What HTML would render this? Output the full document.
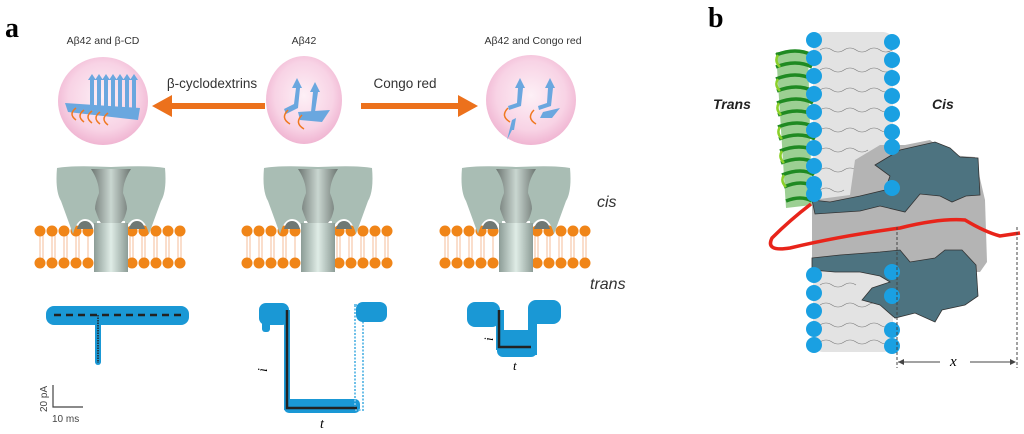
<!DOCTYPE html>
<html><head><meta charset="utf-8"><style>
html,body{margin:0;padding:0;background:#fff;}
svg{display:block;}
text{font-family:"Liberation Sans",sans-serif;}
</style></head><body>
<svg width="1024" height="434" viewBox="0 0 1024 434" xmlns="http://www.w3.org/2000/svg">
<defs>
<radialGradient id="pk" cx="50%" cy="45%" r="55%">
<stop offset="0" stop-color="#fdf0f6"/><stop offset="0.7" stop-color="#f8d3e5"/><stop offset="1" stop-color="#f0b5d2"/>
</radialGradient>
<linearGradient id="st" x1="0" x2="1">
<stop offset="0" stop-color="#8c9c96"/><stop offset="0.5" stop-color="#dfece6"/><stop offset="1" stop-color="#8c9c96"/>
</linearGradient>
<linearGradient id="vs" x1="0" x2="1">
<stop offset="0" stop-color="#6d7672"/><stop offset="0.5" stop-color="#c9d6d0"/><stop offset="1" stop-color="#6d7672"/>
</linearGradient>
<g id="pore">
<g stroke="#f0a070" stroke-width="0.7">
<path d="M-15,-2 v32 M-3,-2 v32 M9,-2 v32 M21,-2 v32 M33,-2 v32 M75,-2 v32 M87,-2 v32 M99,-2 v32 M111,-2 v32 M123,-2 v32 M-12,-2 v32 M0,-2 v32 M12,-2 v32 M24,-2 v32 M78,-2 v32 M90,-2 v32 M102,-2 v32 M114,-2 v32 M126,-2 v32"/>
</g>
<g fill="#f08518">
<circle cx="-15" cy="0" r="5.5"/><circle cx="-3" cy="0" r="5.5"/><circle cx="9" cy="0" r="5.5"/><circle cx="21" cy="0" r="5.5"/><circle cx="33" cy="0" r="5.5"/>
<circle cx="77" cy="0" r="5.5"/><circle cx="89" cy="0" r="5.5"/><circle cx="101" cy="0" r="5.5"/><circle cx="113" cy="0" r="5.5"/><circle cx="125" cy="0" r="5.5"/>
<circle cx="-15" cy="32" r="5.5"/><circle cx="-3" cy="32" r="5.5"/><circle cx="9" cy="32" r="5.5"/><circle cx="21" cy="32" r="5.5"/><circle cx="33" cy="32" r="5.5"/>
<circle cx="77" cy="32" r="5.5"/><circle cx="89" cy="32" r="5.5"/><circle cx="101" cy="32" r="5.5"/><circle cx="113" cy="32" r="5.5"/><circle cx="125" cy="32" r="5.5"/>
</g>
<path d="M2,-63 Q0,-40 6,-30 L18,3 Q22,-12 30,-12 Q38,-12 42,0 L42,-10 L70,-10 L70,0 Q74,-12 82,-12 Q90,-12 94,3 L106,-30 Q112,-40 110,-63 Q95,-66 56,-64 Q17,-66 2,-63Z" fill="#a9bdb4"/>
<path d="M22,-2 Q24,-10 30,-10 Q36,-10 38,-2Z M74,-2 Q76,-10 82,-10 Q88,-10 90,-2Z" fill="#6f7874"/>
<path d="M36,-62 Q44,-50 44,-38 Q40,-28 40,-22 Q44,-10 46,-8 L66,-8 Q70,-12 72,-22 Q72,-28 68,-38 Q68,-50 76,-62Z" fill="url(#vs)"/>
<rect x="39" y="-8" width="34" height="49" fill="url(#st)"/>
</g>
</defs>

<text x="5" y="37" font-weight="bold" font-size="28" style="font-family:'Liberation Serif',serif">a</text>
<text x="103" y="44" font-size="10.5" text-anchor="middle" fill="#333">Aβ42 and β-CD</text>
<text x="304" y="44" font-size="10.5" text-anchor="middle" fill="#333">Aβ42</text>
<text x="533" y="44" font-size="10.5" text-anchor="middle" fill="#333">Aβ42 and Congo red</text>

<ellipse cx="103" cy="101" rx="45" ry="44" fill="url(#pk)"/>
<ellipse cx="304" cy="100" rx="38" ry="44" fill="url(#pk)"/>
<ellipse cx="531" cy="100" rx="45" ry="45" fill="url(#pk)"/>

<g fill="#6aa7df">
<path d="M65,103 L140,108 L138,120 L68,112Z"/>
<path d="M88,80 l4,-6 4,6 -2,0 0,30 -4,0 0,-30Z"/><path d="M95,80 l4,-6 4,6 -2,0 0,30 -4,0 0,-30Z"/><path d="M102,80 l4,-6 4,6 -2,0 0,30 -4,0 0,-30Z"/><path d="M109,80 l4,-6 4,6 -2,0 0,30 -4,0 0,-30Z"/><path d="M116,80 l4,-6 4,6 -2,0 0,30 -4,0 0,-30Z"/><path d="M123,80 l4,-6 4,6 -2,0 0,30 -4,0 0,-30Z"/><path d="M130,80 l4,-6 4,6 -2,0 0,30 -4,0 0,-30Z"/>
</g>
<path d="M76,108 q-8,6 0,12 M84,110 q-8,6 0,12 M92,111 q-8,6 0,12 M100,112 q-8,6 0,12 M108,113 q-8,6 0,12" stroke="#f07820" stroke-width="1.5" fill="none"/>
<g fill="#6aa7df">
<path d="M292,88 l5,-10 5,10 -2,0 -2,20 -12,6 -2,-5 10,-5 2,-16Z"/>
<path d="M310,92 l5,-10 5,10 -2,0 -3,20 -4,0 2,-20Z"/>
<path d="M298,112 L330,110 L322,122 L300,120Z"/>
</g>
<path d="M288,110 q-8,8 2,14 M302,115 q-8,8 2,14" stroke="#f07820" stroke-width="1.5" fill="none"/>
<g fill="#6aa7df">
<path d="M515,88 l5,-10 5,10 -2,0 -2,18 -12,4 -1,-4 9,-3 1,-15Z"/>
<path d="M545,88 l5,-10 5,10 -2,0 -2,18 -12,4 -1,-4 9,-3 1,-15Z"/>
<path d="M512,130 l-5,10 5,-20 4,-2 -2,12Z"/>
<path d="M543,112 L560,108 L552,118 L540,118Z"/>
</g>
<path d="M508,108 q-8,8 2,14 M534,110 q-8,8 2,14" stroke="#f07820" stroke-width="1.5" fill="none"/>

<path d="M265,103 L172,103 L172,95 L152,106 L172,117 L172,109 L265,109Z" fill="#ec711c"/>
<path d="M361,103 L458,103 L458,95 L478,106 L458,117 L458,109 L361,109Z" fill="#ec711c"/>
<text x="212" y="88" font-size="13.5" text-anchor="middle" fill="#333">β-cyclodextrins</text>
<text x="405" y="88" font-size="13.5" text-anchor="middle" fill="#333">Congo red</text>

<use href="#pore" x="55" y="231"/>
<use href="#pore" x="262" y="231"/>
<use href="#pore" x="460" y="231"/>
<text x="597" y="207" font-size="16" font-style="italic" fill="#333">cis</text>
<text x="590" y="289" font-size="16" font-style="italic" fill="#333">trans</text>

<rect x="46" y="306" width="143" height="19" rx="8" fill="#1a98d5"/>
<rect x="95" y="315" width="6" height="50" rx="3" fill="#1a98d5"/>
<line x1="54" y1="315" x2="186" y2="315" stroke="#222" stroke-width="2.5" stroke-dasharray="7,5"/>
<line x1="98" y1="315" x2="98" y2="363" stroke="#222" stroke-width="1.5" stroke-dasharray="1.5,1"/>
<rect x="259" y="303" width="30" height="22" rx="7" fill="#1a98d5"/>
<rect x="262" y="320" width="8" height="12" rx="3" fill="#1a98d5"/>
<rect x="284" y="310" width="6" height="100" fill="#1a98d5"/>
<rect x="284" y="399" width="76" height="14" rx="5" fill="#1a98d5"/>
<rect x="355" y="305" width="8" height="105" fill="none" stroke="#6fc0e8" stroke-width="2" stroke-dasharray="2,1.5"/>
<rect x="356" y="302" width="31" height="20" rx="7" fill="#1a98d5"/>
<path d="M287,310 V408 H357" stroke="#222" stroke-width="2.5" fill="none"/>
<text x="259" y="372" font-size="14" font-style="italic" transform="rotate(-90 263 368)" style="font-family:'Liberation Serif',serif">i</text>
<text x="320" y="428" font-size="14" font-style="italic" style="font-family:'Liberation Serif',serif">t</text>
<rect x="467" y="302" width="33" height="25" rx="8" fill="#1a98d5"/>
<rect x="497" y="330" width="40" height="27" rx="6" fill="#1a98d5"/>
<rect x="496" y="310" width="8" height="40" fill="#1a98d5"/>
<rect x="528" y="300" width="33" height="24" rx="8" fill="#1a98d5"/>
<rect x="528" y="315" width="9" height="40" fill="#1a98d5"/>
<path d="M499,310 V347 H531" stroke="#222" stroke-width="2.5" fill="none"/>
<text x="485" y="341" font-size="13" font-style="italic" transform="rotate(-90 489 337)" style="font-family:'Liberation Serif',serif">i</text>
<text x="513" y="370" font-size="13" font-style="italic" style="font-family:'Liberation Serif',serif">t</text>
<path d="M53,385 V407 H83" stroke="#444" stroke-width="1.2" fill="none"/>
<text x="47" y="412" font-size="10" fill="#444" transform="rotate(-90 47 412)">20 pA</text>
<text x="52" y="422" font-size="10" fill="#444">10 ms</text>

<text x="708" y="27" font-weight="bold" font-size="28" style="font-family:'Liberation Serif',serif">b</text>
<rect x="813" y="32" width="80" height="320" rx="10" fill="#e3e3e3"/>
<g stroke="#777" stroke-width="0.6" fill="none">
<path d="M820,50 q6,-4 12,0 t12,0 t12,0 t12,0 t12,0 t12,0"/>
<path d="M820,70 q6,-4 12,0 t12,0 t12,0 t12,0 t12,0 t12,0"/>
<path d="M820,90 q6,-4 12,0 t12,0 t12,0 t12,0 t12,0 t12,0"/>
<path d="M820,110 q6,-4 12,0 t12,0 t12,0 t12,0 t12,0 t12,0"/>
<path d="M820,130 q6,-4 12,0 t12,0 t12,0 t12,0 t12,0 t12,0"/>
<path d="M820,150 q6,-4 12,0 t12,0 t12,0 t12,0"/>
<path d="M820,170 q6,-4 12,0 t12,0 t12,0"/>
<path d="M820,190 q6,-4 12,0 t12,0"/>
<path d="M820,285 q6,-4 12,0 t12,0 t12,0"/>
<path d="M820,305 q6,-4 12,0 t12,0 t12,0 t12,0 t12,0"/>
<path d="M820,325 q6,-4 12,0 t12,0 t12,0 t12,0 t12,0 t12,0"/>
<path d="M820,342 q6,-4 12,0 t12,0 t12,0 t12,0 t12,0 t12,0"/>
</g>
<path d="M776,52 L808,52 L812,205 L786,208Z" fill="#4aa83a" opacity="0.55"/>
<g stroke="#1f8a22" stroke-width="3.5" fill="none">
<path d="M776,55 q20,-8 36,0 M776,67 q20,-8 36,0 M776,79 q20,-8 36,0 M777,91 q20,-8 36,0 M777,103 q20,-8 36,0 M778,115 q20,-8 36,0 M778,127 q20,-8 36,0 M779,139 q20,-8 36,0 M780,151 q20,-8 36,0 M781,163 q20,-8 34,0 M782,175 q20,-8 32,0 M784,187 q18,-8 30,0 M786,201 q15,-6 26,0"/>
<path d="M778,55 q-4,6 2,12 M778,79 q-4,6 2,12 M779,103 q-4,6 2,12 M780,127 q-4,6 2,12 M782,151 q-4,6 2,12 M784,175 q-4,6 2,12" stroke="#8bd02a" stroke-width="2.5"/>
</g>
<path d="M855,160 L880,145 L905,145 L930,140 L950,155 L975,157 L985,200 L987,262 L980,272 L925,272 L900,266 L870,268 L812,272 L812,200 L850,195Z" fill="#b4b4b4"/>
<path d="M875,165 L900,150 L935,142 L950,148 L960,157 L978,158 L980,195 L966,196 L952,202 L940,196 L920,194 L905,212 L880,206 L860,211 L815,214 L812,200 L830,202 L860,196 L885,190 L890,176Z" fill="#4d7380" stroke="#333" stroke-width="0.8"/>
<path d="M812,258 L840,255 L880,252 L900,250 L910,262 L935,258 L945,250 L962,250 L976,265 L978,296 L965,305 L942,310 L935,322 L915,313 L895,318 L880,305 L862,300 L872,288 L890,282 L880,276 L860,272 L835,272 L812,270Z" fill="#4d7380" stroke="#333" stroke-width="0.8"/>
<g fill="#1aa0e2">
<circle cx="814" cy="40" r="8"/><circle cx="814" cy="58" r="8"/><circle cx="814" cy="76" r="8"/><circle cx="814" cy="94" r="8"/><circle cx="814" cy="112" r="8"/><circle cx="814" cy="130" r="8"/><circle cx="814" cy="148" r="8"/><circle cx="814" cy="166" r="8"/><circle cx="814" cy="184" r="8"/><circle cx="814" cy="194" r="8"/>
<circle cx="892" cy="42" r="8"/><circle cx="892" cy="60" r="8"/><circle cx="892" cy="78" r="8"/><circle cx="892" cy="96" r="8"/><circle cx="892" cy="114" r="8"/><circle cx="892" cy="132" r="8"/><circle cx="892" cy="147" r="8"/><circle cx="892" cy="188" r="8"/>
<circle cx="814" cy="275" r="8"/><circle cx="814" cy="293" r="8"/><circle cx="814" cy="311" r="8"/><circle cx="814" cy="329" r="8"/><circle cx="814" cy="345" r="8"/>
<circle cx="892" cy="272" r="8"/><circle cx="892" cy="296" r="8"/><circle cx="892" cy="330" r="8"/><circle cx="892" cy="346" r="8"/>
</g>
<path d="M811,204 Q790,220 772,238 Q765,252 790,248 Q840,236 900,228 Q940,218 965,220 Q985,232 1000,236 L1020,233" stroke="#e8241a" stroke-width="3.5" fill="none"/>
<g stroke="#444" stroke-width="1" stroke-dasharray="3,2">
<line x1="897" y1="227" x2="897" y2="368"/>
<line x1="1017" y1="227" x2="1017" y2="368"/>
</g>
<path d="M898,362 H940 M970,362 H1015" stroke="#444" stroke-width="1"/>
<path d="M898,362 l6,-3 v6Z M1016,362 l-6,-3 v6Z" fill="#444"/>
<text x="950" y="366" font-size="15" font-style="italic" style="font-family:'Liberation Serif',serif">x</text>
<text x="713" y="109" font-size="14" font-weight="bold" font-style="italic" fill="#222">Trans</text>
<text x="932" y="109" font-size="14" font-weight="bold" font-style="italic" fill="#222">Cis</text>
</svg>
</body></html>
